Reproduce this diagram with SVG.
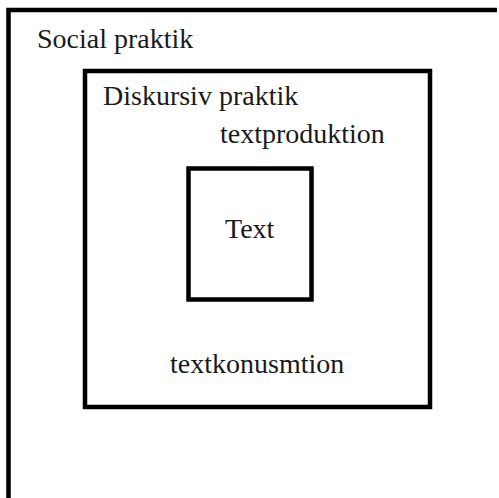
<svg xmlns="http://www.w3.org/2000/svg" width="499" height="498" viewBox="0 0 499 498">
  <style>
    .box { fill: none; stroke: #000; stroke-width: 4.5; }
    .lbl { font-family: "Liberation Serif", "Times New Roman", serif; font-size: 28px; fill: #1a1a1a; }
  </style>
  <rect width="499" height="498" fill="#fff"/>
  <g id="social-praktik">
    <path class="box" d="M8.5 500 V10 H497"/>
    <text class="lbl" x="37" y="48">Social praktik</text>
  </g>
  <g id="diskursiv-praktik">
    <rect class="box" x="85" y="71" width="345" height="336"/>
    <text class="lbl" x="103" y="105">Diskursiv praktik</text>
    <text class="lbl" x="220" y="143">textproduktion</text>
    <text class="lbl" x="170" y="373">textkonusmtion</text>
  </g>
  <g id="text">
    <rect class="box" x="188.5" y="168.5" width="123" height="131"/>
    <text class="lbl" x="225" y="238">Text</text>
  </g>
  <g id="connectors"></g>
</svg>
